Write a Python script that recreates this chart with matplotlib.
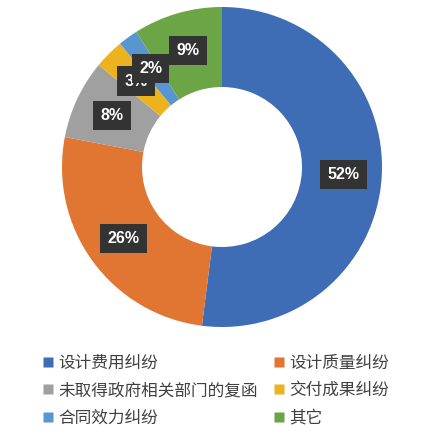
import matplotlib.pyplot as plt
from matplotlib.lines import Line2D
import numpy as np

plt.rcParams['font.family'] = ['Noto Sans CJK SC', 'DejaVu Sans']

# 纠纷类型及占比
categories = ['设计费用纠纷', '设计质量纠纷', '未取得政府相关部门的复函',
              '交付成果纠纷', '合同效力纠纷', '其它']
shares = [52, 26, 8, 3, 2, 9]
colors = ['#3E6DB5', '#E07632', '#A0A0A0', '#EDB31E', '#5896D0', '#6BA545']

fig = plt.figure(figsize=(4.44, 4.34), dpi=100)
ax = fig.add_axes([62 / 444, (434 - 327) / 434, 320 / 444, 320 / 434])

wedges, _ = ax.pie(shares, colors=colors, startangle=90, counterclock=False,
                   radius=1.0, wedgeprops=dict(width=0.5, edgecolor='none'))
ax.set_xlim(-1, 1)
ax.set_ylim(-1, 1)
ax.set_aspect('equal')
ax.axis('off')

# 百分比标签（深色底框）
for w, v in zip(wedges, shares):
    ang = np.deg2rad((w.theta1 + w.theta2) / 2)
    r = 0.76
    ax.text(r * np.cos(ang), r * np.sin(ang), f'{v}%',
            ha='center', va='center', color='white', fontsize=11.5,
            fontweight='bold', family='Liberation Sans',
            bbox=dict(boxstyle='square,pad=0.45', fc='#333333', ec='none'))

# 图例：两列，按行排列
handles = [Line2D([], [], marker='s', linestyle='none', markersize=7.5,
                  markerfacecolor=c, markeredgecolor='none') for c in colors]
order = [0, 2, 4, 1, 3, 5]
fig.legend([handles[i] for i in order], [categories[i] for i in order],
           ncol=2, loc='upper left', bbox_to_anchor=(35 / 444, 1 - 348 / 434),
           frameon=False, fontsize=12, labelcolor='#404040',
           handlelength=0.7, handletextpad=0.3, columnspacing=0.9,
           labelspacing=0.62, borderaxespad=0)

fig.savefig('out.png', dpi=100, facecolor='white')
